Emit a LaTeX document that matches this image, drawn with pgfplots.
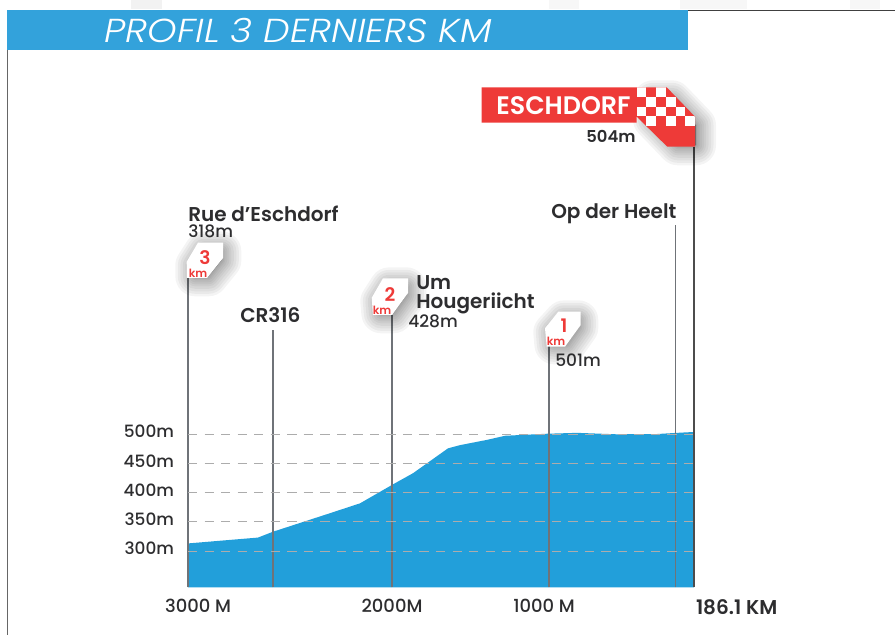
\documentclass[border=0pt]{standalone}
\usepackage{fontspec}
\setmainfont{Poppins}
\newfontfamily\semi{Poppins SemiBold}
\newfontfamily\medf{Poppins Medium}
\newfontfamily\titlef[FakeStretch=1.13]{Poppins Light Italic}
\usepackage{pgfplots}
\pgfplotsset{compat=1.18}
\definecolor{prof}{HTML}{229FDA}
\definecolor{bar}{HTML}{33A2DB}
\definecolor{flagred}{HTML}{EE3A38}
\definecolor{ink}{HTML}{2D2D2F}
\definecolor{pole}{HTML}{6F7378}
\newcommand{\softshadow}[2]{%
  \foreach \w in {40,35,30,25,20,16,12,8,5,2}{
    \fill[black,opacity=.045,draw=black,line width=\w*0.75pt,line join=round,#1] #2;
  }}
\begin{document}
\begin{tikzpicture}
\useasboundingbox (0,0) rectangle (671.25pt,476.25pt);
\begin{axis}[
  at={(141pt,35.775pt)},anchor=south west,
  scale only axis,
  width=379.5pt,height=330.225pt,
  xmin=0,xmax=506,ymin=238,ymax=990.6,
  clip=false,
  axis on top,
  axis line style={draw=none},
  major tick length=0pt,
  xtick={0,204,361,506},
  xticklabels={\hspace*{15pt}3000 M,2000M,1000 M\hspace*{7.5pt},\hspace*{64pt}{\semi\fontsize{15}{16}\selectfont 186.1 KM}},
  ytick={300,350,400,450,500},
  yticklabels={300m,350m,400m,450m,500m},
  ymajorgrids,
  grid style={draw=gray!65,line width=0.75pt,dash pattern=on 7pt off 5.4pt},
  xticklabel style={font=\medf\fontsize{13.5}{14}\selectfont,text=ink,yshift=-5.5pt},
  yticklabel style={font=\medf\fontsize{12.7}{13}\selectfont,text=ink,xshift=-7pt,yshift=1.8pt},
]
\addplot[fill=prof,draw=none] table {
0 238
0 313
70 323
85 333
139 363
172 381.5
204 413
225 433
239 450
260 475.5
272 481
299 490
317 497
359 500.5
389 502
429 499.5
469 500
489 502
506 503.5
506 238
};
\addplot[pole,line width=1pt] coordinates {(0,238) (0,766)};
\addplot[pole,line width=1pt] coordinates {(85,238) (85,678)};
\addplot[pole,line width=1pt] coordinates {(204,238) (204,703)};
\addplot[pole,line width=1pt] coordinates {(361,238) (361,652)};
\addplot[pole,line width=0.8pt] coordinates {(487.5,238) (487.5,857)};
\addplot[black!70,line width=2pt] coordinates {(506,238) (506,990)};
\end{axis}
\begin{scope}[x=.75pt,y=-.75pt,yshift=476.25pt]
  % page furniture
  \fill[black!5] (131,0) rectangle (162,9);
  \fill[black!3] (549,0) rectangle (579,9);
  \fill[black!3] (680,0) rectangle (747,9);
  \fill[black!3] (850,0) rectangle (880,9);
  \draw[black!75,line width=.9pt] (688,10.5) -- (895,10.5);
  \draw[black!60,line width=.9pt] (7.6,50) -- (7.6,635);
  \fill[bar] (7,10) rectangle (688,50);
  \node[anchor=west,text=white,inner sep=0pt,font=\titlef\fontsize{24.9}{26}\selectfont] at (104,31) {PROFIL 3 DERNIERS KM};
  % finish banner
  \softshadow{xshift=6pt,yshift=-4pt}{(645,95) -- (664,95) -- (688,120) -- (688,140) -- (670,140) -- (645,114) -- cycle}
  \fill[flagred] (481.7,87.3) -- (666.7,87.3) -- (695,116.7) -- (695,146.7) -- (667.3,146.7) -- (636.7,116.7) -- (636.7,122.7) -- (481.7,122.7) -- cycle;
  \begin{scope}
    \clip (636.7,87.3) -- (666.7,87.3) -- (695,116.7) -- (695,146.7) -- (667.3,146.7) -- (636.7,116.7) -- cycle;
    \foreach \r/\c in {0/0,0/2,1/1,1/3,2/0,2/2,2/4,3/1,3/3,3/5}{
      \fill[white] ({636.7+9.7*\c},{87.3+9.7*\r}) rectangle ++(9.7,9.7);
    }
  \end{scope}
  \node[text=white,inner sep=0pt,font=\semi\fontsize{19}{20}\selectfont] at (563.5,105.5) {ESCHDORF};
  \node[text=ink,inner sep=0pt,font=\semi\fontsize{12.3}{13}\selectfont] at (611,136) {504m};
  % km flags
  \softshadow{xshift=2.5pt,yshift=-2.5pt}{(192,262) -- (201,248) -- (218,248) -- (218,257) -- (205,273) -- (192,273) -- cycle}
  \fill[white] (186.7,261.7) -- (198,242.7) -- (223,242.7) -- (223,258) -- (207,278) -- (187,278) -- cycle;
  \softshadow{xshift=2.5pt,yshift=-2.5pt}{(377,298) -- (386,284) -- (403,284) -- (403,292) -- (390,310) -- (378,310) -- cycle}
  \fill[white] (371.7,297.7) -- (383,278.3) -- (408,278.3) -- (408,293) -- (392,315) -- (373,315) -- cycle;
  \softshadow{xshift=2.5pt,yshift=-2.5pt}{(550,329) -- (561,317) -- (575,317) -- (575,324) -- (563,341) -- (551,341) -- cycle}
  \fill[white] (545,328.3) -- (558.3,311.7) -- (580.7,311.7) -- (580.7,325) -- (565,346.7) -- (546.7,346.7) -- cycle;
  \foreach \dx/\dy/\nx/\n in {205/258/198/3,390/295/382/2,564/326/556/1}{
    \node[text=flagred,inner sep=0pt,font=\semi\fontsize{14}{15}\selectfont] at (\dx,\dy) {\n};
    \node[text=flagred,inner sep=0pt,font=\semi\fontsize{8.5}{9}\selectfont] at (\nx,{\dy+15}) {km};
  }
  % place names
  \tikzset{nm/.style={anchor=base west,text=ink,inner sep=0pt,font=\semi\fontsize{15}{16}\selectfont},
           el/.style={anchor=base west,text=ink,inner sep=0pt,font=\medf\fontsize{12.8}{13}\selectfont}}
  \node[nm] at (188,222) {Rue d’Eschdorf};
  \node[el] at (188,238) {318m};
  \node[nm] at (240,323) {CR316};
  \node[nm] at (416,290) {Um};
  \node[nm] at (416,309) {Hougeriicht};
  \node[el] at (408,328) {428m};
  \node[el] at (555,367) {501m};
  \node[nm] at (551,219) {Op der Heelt};
\end{scope}
\end{tikzpicture}
\end{document}
